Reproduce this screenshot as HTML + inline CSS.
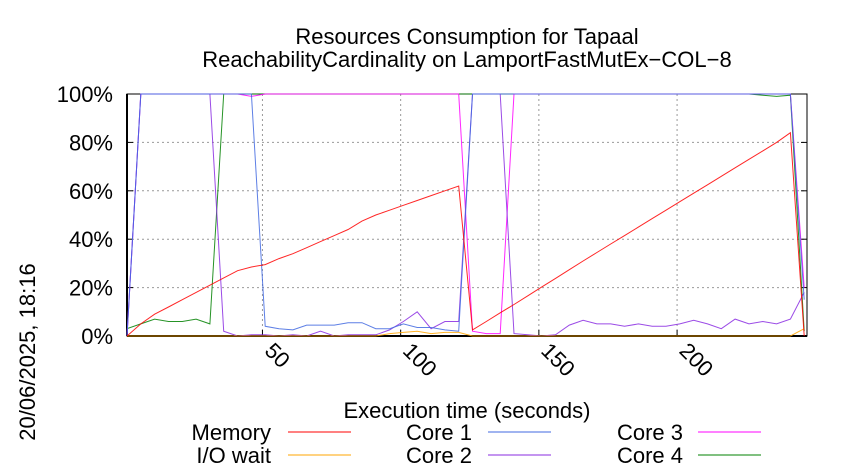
<!DOCTYPE html>
<html><head><meta charset="utf-8">
<style>
html,body{margin:0;padding:0;background:#fff;}
svg{display:block;font-family:"Liberation Sans",sans-serif;}
</style></head>
<body>
<svg id="chart" width="850" height="475" viewBox="0 0 850 475" xmlns="http://www.w3.org/2000/svg">
<text x="467" y="44" font-size="22" text-anchor="middle">Resources Consumption for Tapaal</text>
<text x="467" y="67" font-size="22" text-anchor="middle">ReachabilityCardinality on LamportFastMutEx−COL−8</text>
<text transform="translate(35,352) rotate(-90)" font-size="22" text-anchor="middle">20/06/2025, 18:16</text>
<text x="467" y="418" font-size="22" text-anchor="middle">Execution time (seconds)</text>
<g id="grid"></g>
<g id="axes"></g>
<g id="series"></g>
<g id="legend"></g>
</svg>
<script>
const times = [1,6,11,16,21,26,31,36,41,46,51,56,61,66,71,76,81,86,91,96,101,106,111,116,121,126,131,136,141,146,151,156,161,166,171,176,181,186,191,196,201,206,211,216,221,226,231,236,241,246];
const memory = [0,5,9,12,15,18,21,24,27,28.5,29.5,32,34,36.5,39,41.5,44,47.5,50,52,54,56,58,60,62,2.5,6,9.6,13,16.6,20.2,23.8,27.4,31,34.5,38,41.5,45,48.5,52,55.5,59,62.5,66,69.5,73,76.5,80,84,0];
const ioWait = [0,0,0,0,0,0,0,0,0,0,0,0,0,0,0,0,0,0,0,1,1.5,2,1,1.5,1.5,0,0,0,0,0,0,0,0,0,0,0,0,0,0,0,0,0,0,0,0,0,0,0,0,3];
const core1 = [0,100,100,100,100,100,100,100,100,100,4,3,2.5,4.5,4.5,4.5,5.5,5.5,3,3,5,3.5,3.5,2.5,2,100,100,100,100,100,100,100,100,100,100,100,100,100,100,100,100,100,100,100,100,100,100,100,100,15];
const core2 = [0,100,100,100,100,100,100,2,0,0.5,0.5,0,0.5,0,2,0,0.5,0.5,0.5,2.5,6,10,3,6,6,100,100,100,1,0.5,0,0.5,4.5,6.5,5,5,4,5,4,4,5,6.5,5,3,7,5,6,5,7,18];
const core3 = [0,100,100,100,100,100,100,100,100,99,100,100,100,100,100,100,100,100,100,100,100,100,100,100,100,2,1,1,100,100,100,100,100,100,100,100,100,100,100,100,100,100,100,100,100,100,100,100,100,20];
const core4 = [3,5,7,6,6,7,5,100,100,100,100,100,100,100,100,100,100,100,100,100,100,100,100,100,100,100,100,100,100,100,100,100,100,100,100,100,100,100,100,100,100,100,100,100,100,100,99.5,99,99.5,2];
const xTicks = [50,100,150,200];
const yTicks = [0,20,40,60,80,100];
const seriesNames = ["Memory","I/O wait","Core 1","Core 2","Core 3","Core 4"];
const seriesColors = ["#ff0000","#ffa500","#4169e1","#8a2be2","#ff00ff","#008000"];

const NS="http://www.w3.org/2000/svg";
const L=127,R=807,T=94,B=336, X0=1,X1=247;
const xs=v=>L+(v-X0)/(X1-X0)*(R-L);
const ys=v=>B-v/100*(B-T);
function mk(tag,attrs,parent){const e=document.createElementNS(NS,tag);for(const k in attrs)e.setAttribute(k,attrs[k]);parent.appendChild(e);return e;}
const grid=document.getElementById('grid'),axes=document.getElementById('axes'),ser=document.getElementById('series'),leg=document.getElementById('legend');

yTicks.forEach(v=>{
  if(v>0&&v<100){const g=mk('line',{x1:L,x2:R,y1:ys(v),y2:ys(v),stroke:'#999','stroke-width':1,'stroke-dasharray':'2,3'},grid);
  }
  const t=mk('line',{x1:L,x2:L+6,y1:ys(v),y2:ys(v),stroke:'#000','stroke-width':1},axes);
  
  const t2=mk('line',{x1:R-6,x2:R,y1:ys(v),y2:ys(v),stroke:'#000','stroke-width':1},axes);
  
  const lb=mk('text',{x:113,y:ys(v)+8,'font-size':22,'text-anchor':'end'},axes);lb.textContent=v+'%';
  
});
xTicks.forEach(v=>{
  const g=mk('line',{x1:xs(v),x2:xs(v),y1:T,y2:B,stroke:'#999','stroke-width':1,'stroke-dasharray':'2,3'},grid);
  
  const t=mk('line',{x1:xs(v),x2:xs(v),y1:B-6,y2:B,stroke:'#000'},axes);
  
  const lb=mk('text',{transform:`translate(${xs(v)+1},${B+16}) rotate(45)`,'font-size':22},axes);lb.textContent=v;
  
});
const frame=mk('rect',{x:L,y:T,width:R-L,height:B-T,fill:'none',stroke:'#000','stroke-width':1},axes);

const bl=mk('line',{x1:L,x2:R,y1:B,y2:B,stroke:'#000','stroke-width':2},axes);

const ll=mk('line',{x1:L,x2:L,y1:T,y2:B,stroke:'#000','stroke-width':2},axes);


const data=[memory,ioWait,core1,core2,core3,core4];
const order=[5,4,3,2,1,0];
order.forEach(i=>{
  const pts=times.map((t,j)=>xs(t).toFixed(1)+','+ys(data[i][j]).toFixed(1)).join(' ');
  const p=mk('polyline',{points:pts,fill:'none',stroke:seriesColors[i],'stroke-width':1,'stroke-opacity':0.85},ser);
  
  
});
const legPos=[[271,288,432],[271,288,455],[472,488,432],[472,488,455],[683,698,432],[683,698,455]];
seriesNames.forEach((n,i)=>{
  const [tx,lx,y]=legPos[i];
  const t=mk('text',{x:tx,y:y+8,'font-size':22,'text-anchor':'end'},leg);t.textContent=n;
  
  const l=mk('line',{x1:lx,x2:lx+63,y1:y,y2:y,stroke:seriesColors[i],'stroke-width':1},leg);
  
});
</script>
</body></html>
